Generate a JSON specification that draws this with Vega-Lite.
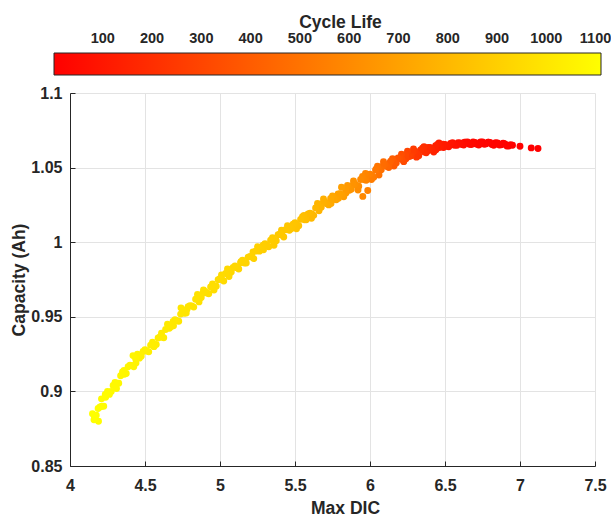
{
  "$schema": "https://vega.github.io/schema/vega-lite/v6.json",
  "autosize": "none",
  "padding": {"left": 70, "top": 93, "right": 16, "bottom": 53},
  "width": 525,
  "height": 373,
  "background": "white",
  "config": {
    "view": {"stroke": null},
    "font": "Liberation Sans"
  },
  "title": {
    "text": "Cycle Life",
    "anchor": "middle", "frame": "group", "dx": 8, "offset": 8,
    "baseline": "alphabetic",
    "font": "Liberation Sans", "fontSize": 17.5, "fontWeight": "bold", "color": "#262626"
  },
  "data": {
    "values": [
      {"x": 4.150, "y": 0.885, "c": 1111},
      {"x": 4.175, "y": 0.884, "c": 1107},
      {"x": 4.200, "y": 0.8895, "c": 1102},
      {"x": 4.225, "y": 0.890, "c": 1098},
      {"x": 4.250, "y": 0.900, "c": 1094},
      {"x": 4.275, "y": 0.900, "c": 1089},
      {"x": 4.300, "y": 0.906, "c": 1085},
      {"x": 4.325, "y": 0.9055, "c": 1080},
      {"x": 4.350, "y": 0.913, "c": 1075},
      {"x": 4.375, "y": 0.912, "c": 1070},
      {"x": 4.400, "y": 0.9175, "c": 1065},
      {"x": 4.425, "y": 0.9165, "c": 1060},
      {"x": 4.450, "y": 0.925, "c": 1055},
      {"x": 4.475, "y": 0.9235, "c": 1050},
      {"x": 4.500, "y": 0.928, "c": 1045},
      {"x": 4.525, "y": 0.9265, "c": 1040},
      {"x": 4.550, "y": 0.933, "c": 1036},
      {"x": 4.575, "y": 0.9315, "c": 1031},
      {"x": 4.600, "y": 0.9365, "c": 1027},
      {"x": 4.625, "y": 0.936, "c": 1022},
      {"x": 4.650, "y": 0.945, "c": 1018},
      {"x": 4.675, "y": 0.9435, "c": 1013},
      {"x": 4.700, "y": 0.948, "c": 1009},
      {"x": 4.725, "y": 0.947, "c": 1004},
      {"x": 4.750, "y": 0.954, "c": 1000},
      {"x": 4.775, "y": 0.9525, "c": 996},
      {"x": 4.800, "y": 0.9575, "c": 991},
      {"x": 4.825, "y": 0.9565, "c": 987},
      {"x": 4.850, "y": 0.965, "c": 983},
      {"x": 4.875, "y": 0.963, "c": 979},
      {"x": 4.900, "y": 0.967, "c": 974},
      {"x": 4.925, "y": 0.9655, "c": 970},
      {"x": 4.950, "y": 0.972, "c": 966},
      {"x": 4.975, "y": 0.9705, "c": 961},
      {"x": 5.000, "y": 0.9755, "c": 957},
      {"x": 5.025, "y": 0.974, "c": 952},
      {"x": 5.050, "y": 0.982, "c": 947},
      {"x": 5.075, "y": 0.980, "c": 941},
      {"x": 5.100, "y": 0.984, "c": 936},
      {"x": 5.125, "y": 0.982, "c": 931},
      {"x": 5.150, "y": 0.988, "c": 926},
      {"x": 5.175, "y": 0.986, "c": 921},
      {"x": 5.200, "y": 0.9905, "c": 915},
      {"x": 5.225, "y": 0.989, "c": 910},
      {"x": 5.250, "y": 0.997, "c": 905},
      {"x": 5.275, "y": 0.995, "c": 900},
      {"x": 5.300, "y": 0.999, "c": 895},
      {"x": 5.325, "y": 0.997, "c": 890},
      {"x": 5.350, "y": 1.003, "c": 885},
      {"x": 5.375, "y": 1.001, "c": 880},
      {"x": 5.400, "y": 1.0055, "c": 875},
      {"x": 5.425, "y": 1.0035, "c": 870},
      {"x": 5.450, "y": 1.011, "c": 865},
      {"x": 5.475, "y": 1.009, "c": 860},
      {"x": 5.500, "y": 1.013, "c": 855},
      {"x": 5.525, "y": 1.011, "c": 844},
      {"x": 5.550, "y": 1.017, "c": 833},
      {"x": 5.575, "y": 1.015, "c": 823},
      {"x": 5.600, "y": 1.0195, "c": 812},
      {"x": 5.625, "y": 1.018, "c": 801},
      {"x": 5.650, "y": 1.026, "c": 790},
      {"x": 5.675, "y": 1.0235, "c": 775},
      {"x": 5.700, "y": 1.027, "c": 760},
      {"x": 5.725, "y": 1.025, "c": 745},
      {"x": 5.750, "y": 1.031, "c": 730},
      {"x": 5.775, "y": 1.0285, "c": 715},
      {"x": 5.800, "y": 1.0325, "c": 700},
      {"x": 5.825, "y": 1.0305, "c": 683},
      {"x": 5.850, "y": 1.038, "c": 665},
      {"x": 5.875, "y": 1.0355, "c": 648},
      {"x": 5.900, "y": 1.039, "c": 630},
      {"x": 5.925, "y": 1.0375, "c": 612},
      {"x": 5.950, "y": 1.044, "c": 594},
      {"x": 5.975, "y": 1.0415, "c": 575},
      {"x": 6.000, "y": 1.0455, "c": 557},
      {"x": 6.025, "y": 1.0435, "c": 533},
      {"x": 6.050, "y": 1.051, "c": 509},
      {"x": 6.075, "y": 1.0485, "c": 484},
      {"x": 6.100, "y": 1.052, "c": 460},
      {"x": 6.125, "y": 1.050, "c": 433},
      {"x": 6.150, "y": 1.056, "c": 405},
      {"x": 6.175, "y": 1.053, "c": 378},
      {"x": 6.200, "y": 1.0565, "c": 350},
      {"x": 6.225, "y": 1.054, "c": 324},
      {"x": 6.250, "y": 1.061, "c": 298},
      {"x": 6.275, "y": 1.058, "c": 271},
      {"x": 6.300, "y": 1.061, "c": 245},
      {"x": 6.325, "y": 1.058, "c": 225},
      {"x": 6.350, "y": 1.063, "c": 205},
      {"x": 6.375, "y": 1.060, "c": 185},
      {"x": 6.400, "y": 1.0635, "c": 165},
      {"x": 6.425, "y": 1.0605, "c": 150},
      {"x": 6.450, "y": 1.0655, "c": 135},
      {"x": 6.475, "y": 1.064, "c": 120},
      {"x": 6.500, "y": 1.0655, "c": 105},
      {"x": 6.525, "y": 1.064, "c": 94},
      {"x": 6.550, "y": 1.0667, "c": 83},
      {"x": 6.575, "y": 1.0653, "c": 71},
      {"x": 6.600, "y": 1.0665, "c": 60},
      {"x": 6.625, "y": 1.0651, "c": 53},
      {"x": 6.650, "y": 1.0672, "c": 45},
      {"x": 6.675, "y": 1.0655, "c": 38},
      {"x": 6.700, "y": 1.0668, "c": 30},
      {"x": 6.725, "y": 1.0652, "c": 26},
      {"x": 6.750, "y": 1.0672, "c": 23},
      {"x": 6.775, "y": 1.066, "c": 19},
      {"x": 6.800, "y": 1.0668, "c": 15},
      {"x": 6.825, "y": 1.065, "c": 13},
      {"x": 6.850, "y": 1.0665, "c": 12},
      {"x": 6.875, "y": 1.0653, "c": 10},
      {"x": 6.900, "y": 1.0658, "c": 8},
      {"x": 6.925, "y": 1.0645, "c": 7},
      {"x": 6.950, "y": 1.065, "c": 6},
      {"x": 7.000, "y": 1.0643, "c": 4},
      {"x": 7.075, "y": 1.0632, "c": 2},
      {"x": 7.120, "y": 1.0628, "c": 1},
      {"x": 4.1625, "y": 0.8835, "c": 1109},
      {"x": 4.1875, "y": 0.8885, "c": 1105},
      {"x": 4.2125, "y": 0.890, "c": 1100},
      {"x": 4.2375, "y": 0.896, "c": 1096},
      {"x": 4.2625, "y": 0.898, "c": 1092},
      {"x": 4.2875, "y": 0.904, "c": 1087},
      {"x": 4.3125, "y": 0.9055, "c": 1082},
      {"x": 4.3375, "y": 0.9105, "c": 1077},
      {"x": 4.3625, "y": 0.9115, "c": 1072},
      {"x": 4.3875, "y": 0.9165, "c": 1067},
      {"x": 4.4125, "y": 0.9173, "c": 1062},
      {"x": 4.4375, "y": 0.9218, "c": 1057},
      {"x": 4.4625, "y": 0.9223, "c": 1052},
      {"x": 4.4875, "y": 0.9268, "c": 1047},
      {"x": 4.5125, "y": 0.927, "c": 1043},
      {"x": 4.5375, "y": 0.931, "c": 1038},
      {"x": 4.5625, "y": 0.9313, "c": 1034},
      {"x": 4.5875, "y": 0.9358, "c": 1029},
      {"x": 4.6125, "y": 0.9365, "c": 1025},
      {"x": 4.6375, "y": 0.9415, "c": 1020},
      {"x": 4.6625, "y": 0.9423, "c": 1016},
      {"x": 4.6875, "y": 0.9468, "c": 1011},
      {"x": 4.7125, "y": 0.9473, "c": 1007},
      {"x": 4.7375, "y": 0.9518, "c": 1002},
      {"x": 4.7625, "y": 0.9523, "c": 998},
      {"x": 4.7875, "y": 0.9568, "c": 994},
      {"x": 4.8125, "y": 0.9573, "c": 989},
      {"x": 4.8375, "y": 0.9618, "c": 985},
      {"x": 4.8625, "y": 0.962, "c": 981},
      {"x": 4.8875, "y": 0.966, "c": 976},
      {"x": 4.9125, "y": 0.966, "c": 972},
      {"x": 4.9375, "y": 0.970, "c": 968},
      {"x": 4.9625, "y": 0.9703, "c": 963},
      {"x": 4.9875, "y": 0.9748, "c": 959},
      {"x": 5.0125, "y": 0.975, "c": 954},
      {"x": 5.0375, "y": 0.979, "c": 949},
      {"x": 5.0625, "y": 0.979, "c": 944},
      {"x": 5.0875, "y": 0.983, "c": 939},
      {"x": 5.1125, "y": 0.9828, "c": 934},
      {"x": 5.1375, "y": 0.9863, "c": 928},
      {"x": 5.1625, "y": 0.986, "c": 923},
      {"x": 5.1875, "y": 0.990, "c": 918},
      {"x": 5.2125, "y": 0.990, "c": 913},
      {"x": 5.2375, "y": 0.994, "c": 908},
      {"x": 5.2625, "y": 0.994, "c": 903},
      {"x": 5.2875, "y": 0.998, "c": 898},
      {"x": 5.3125, "y": 0.9978, "c": 893},
      {"x": 5.3375, "y": 1.0013, "c": 888},
      {"x": 5.3625, "y": 1.001, "c": 883},
      {"x": 5.3875, "y": 1.005, "c": 878},
      {"x": 5.4125, "y": 1.0048, "c": 873},
      {"x": 5.4375, "y": 1.0083, "c": 868},
      {"x": 5.4625, "y": 1.008, "c": 863},
      {"x": 5.4875, "y": 1.012, "c": 858},
      {"x": 5.5125, "y": 1.0118, "c": 850},
      {"x": 5.5375, "y": 1.0153, "c": 839},
      {"x": 5.5625, "y": 1.015, "c": 828},
      {"x": 5.5875, "y": 1.019, "c": 817},
      {"x": 5.6125, "y": 1.019, "c": 806},
      {"x": 5.6375, "y": 1.023, "c": 796},
      {"x": 5.6625, "y": 1.0228, "c": 783},
      {"x": 5.6875, "y": 1.0263, "c": 768},
      {"x": 5.7125, "y": 1.0258, "c": 753},
      {"x": 5.7375, "y": 1.0293, "c": 738},
      {"x": 5.7625, "y": 1.0288, "c": 723},
      {"x": 5.7875, "y": 1.0323, "c": 708},
      {"x": 5.8125, "y": 1.0318, "c": 691},
      {"x": 5.8375, "y": 1.0353, "c": 674},
      {"x": 5.8625, "y": 1.0348, "c": 656},
      {"x": 5.8875, "y": 1.0383, "c": 639},
      {"x": 5.9125, "y": 1.038, "c": 621},
      {"x": 5.9375, "y": 1.042, "c": 603},
      {"x": 5.9625, "y": 1.0418, "c": 584},
      {"x": 5.9875, "y": 1.0453, "c": 566},
      {"x": 6.0125, "y": 1.0448, "c": 545},
      {"x": 6.0375, "y": 1.0483, "c": 521},
      {"x": 6.0625, "y": 1.0478, "c": 496},
      {"x": 6.0875, "y": 1.0513, "c": 472},
      {"x": 6.1125, "y": 1.0508, "c": 446},
      {"x": 6.1375, "y": 1.0543, "c": 419},
      {"x": 6.1625, "y": 1.0535, "c": 391},
      {"x": 6.1875, "y": 1.0565, "c": 364},
      {"x": 6.2125, "y": 1.0555, "c": 337},
      {"x": 6.2375, "y": 1.0585, "c": 311},
      {"x": 6.2625, "y": 1.0575, "c": 284},
      {"x": 6.2875, "y": 1.0605, "c": 258},
      {"x": 6.3125, "y": 1.0593, "c": 235},
      {"x": 6.3375, "y": 1.0618, "c": 215},
      {"x": 6.3625, "y": 1.0605, "c": 195},
      {"x": 6.3875, "y": 1.0635, "c": 175},
      {"x": 6.4125, "y": 1.0625, "c": 158},
      {"x": 6.4375, "y": 1.0646, "c": 143},
      {"x": 6.4625, "y": 1.0635, "c": 128},
      {"x": 6.4875, "y": 1.0656, "c": 113},
      {"x": 6.5125, "y": 1.0643, "c": 99},
      {"x": 6.5375, "y": 1.0662, "c": 88},
      {"x": 6.5625, "y": 1.0649, "c": 77},
      {"x": 6.5875, "y": 1.0667, "c": 66},
      {"x": 6.6125, "y": 1.0654, "c": 56},
      {"x": 6.6375, "y": 1.067, "c": 49},
      {"x": 6.6625, "y": 1.0657, "c": 41},
      {"x": 6.6875, "y": 1.0671, "c": 34},
      {"x": 6.7125, "y": 1.0657, "c": 28},
      {"x": 6.7375, "y": 1.0671, "c": 24},
      {"x": 6.7625, "y": 1.0657, "c": 21},
      {"x": 6.7875, "y": 1.067, "c": 17},
      {"x": 6.8125, "y": 1.0654, "c": 14},
      {"x": 6.8375, "y": 1.0666, "c": 12},
      {"x": 6.8625, "y": 1.0651, "c": 11},
      {"x": 6.8875, "y": 1.0663, "c": 9},
      {"x": 6.9125, "y": 1.0645, "c": 8},
      {"x": 6.9375, "y": 1.0654, "c": 7},
      {"x": 4.190, "y": 0.880, "c": 1104},
      {"x": 4.160, "y": 0.881, "c": 1109},
      {"x": 4.210, "y": 0.895, "c": 1100},
      {"x": 4.235, "y": 0.898, "c": 1096},
      {"x": 4.310, "y": 0.902, "c": 1083},
      {"x": 4.360, "y": 0.914, "c": 1073},
      {"x": 4.420, "y": 0.924, "c": 1061},
      {"x": 4.440, "y": 0.919, "c": 1057},
      {"x": 4.560, "y": 0.930, "c": 1034},
      {"x": 4.610, "y": 0.939, "c": 1025},
      {"x": 4.690, "y": 0.944, "c": 1011},
      {"x": 4.740, "y": 0.956, "c": 1002},
      {"x": 4.780, "y": 0.955, "c": 995},
      {"x": 4.860, "y": 0.960, "c": 981},
      {"x": 4.890, "y": 0.968, "c": 976},
      {"x": 4.960, "y": 0.968, "c": 964},
      {"x": 5.010, "y": 0.978, "c": 955},
      {"x": 5.060, "y": 0.977, "c": 945},
      {"x": 5.140, "y": 0.987, "c": 928},
      {"x": 5.220, "y": 0.9935, "c": 911},
      {"x": 5.290, "y": 0.995, "c": 897},
      {"x": 5.360, "y": 0.998, "c": 883},
      {"x": 5.410, "y": 1.008, "c": 873},
      {"x": 5.460, "y": 1.010, "c": 863},
      {"x": 5.510, "y": 1.009, "c": 851},
      {"x": 5.560, "y": 1.018, "c": 829},
      {"x": 5.610, "y": 1.016, "c": 808},
      {"x": 5.660, "y": 1.021, "c": 784},
      {"x": 5.690, "y": 1.029, "c": 766},
      {"x": 5.740, "y": 1.026, "c": 736},
      {"x": 5.790, "y": 1.0295, "c": 706},
      {"x": 5.810, "y": 1.0368, "c": 693},
      {"x": 5.840, "y": 1.033, "c": 672},
      {"x": 5.890, "y": 1.041, "c": 637},
      {"x": 5.920, "y": 1.035, "c": 615},
      {"x": 5.952, "y": 1.0307, "c": 592},
      {"x": 5.985, "y": 1.0346, "c": 568},
      {"x": 5.970, "y": 1.046, "c": 579},
      {"x": 6.010, "y": 1.042, "c": 547},
      {"x": 6.040, "y": 1.049, "c": 518},
      {"x": 6.060, "y": 1.045, "c": 499},
      {"x": 6.090, "y": 1.054, "c": 470},
      {"x": 6.130, "y": 1.053, "c": 427},
      {"x": 6.160, "y": 1.051, "c": 394},
      {"x": 6.210, "y": 1.059, "c": 340},
      {"x": 6.240, "y": 1.056, "c": 308},
      {"x": 6.290, "y": 1.0625, "c": 256},
      {"x": 6.310, "y": 1.057, "c": 237},
      {"x": 6.360, "y": 1.064, "c": 197},
      {"x": 6.390, "y": 1.0615, "c": 173},
      {"x": 6.440, "y": 1.062, "c": 141},
      {"x": 6.460, "y": 1.0665, "c": 129},
      {"x": 6.490, "y": 1.0635, "c": 111},
      {"x": 6.540, "y": 1.066, "c": 87},
      {"x": 6.580, "y": 1.065, "c": 69},
      {"x": 6.630, "y": 1.067, "c": 51},
      {"x": 6.690, "y": 1.066, "c": 33},
      {"x": 6.740, "y": 1.066, "c": 24},
      {"x": 6.790, "y": 1.067, "c": 16},
      {"x": 6.840, "y": 1.0658, "c": 12},
      {"x": 6.890, "y": 1.066, "c": 9}
    ]
  },
  "mark": {"type": "circle", "size": 48, "opacity": 1},
  "encoding": {
    "x": {
      "field": "x", "type": "quantitative",
      "scale": {"domain": [4, 7.5], "nice": false, "zero": false},
      "axis": {
        "values": [4, 4.5, 5, 5.5, 6, 6.5, 7, 7.5],
        "format": "~f",
        "title": "Max DIC",
        "titleFont": "Liberation Sans", "titleFontSize": 17.5, "titleFontWeight": "bold", "titleColor": "#262626",
        "titleX": 275, "titleY": 47, "titleAlign": "center", "titleBaseline": "alphabetic",
        "labelFont": "Liberation Sans", "labelFontSize": 16, "labelFontWeight": "bold", "labelColor": "#262626",
        "labelFlush": false, "labelOverlap": false,
        "tickSize": -5, "labelPadding": 16, "tickColor": "#262626",
        "domainColor": "#262626", "domainWidth": 1,
        "grid": true, "gridColor": "#e3e3e3", "gridWidth": 1
      }
    },
    "y": {
      "field": "y", "type": "quantitative",
      "scale": {"domain": [0.85, 1.1], "nice": false, "zero": false},
      "axis": {
        "values": [0.85, 0.9, 0.95, 1, 1.05, 1.1],
        "format": "~f",
        "title": "Capacity (Ah)",
        "titleFont": "Liberation Sans", "titleFontSize": 17.5, "titleFontWeight": "bold", "titleColor": "#262626",
        "titleX": -46, "titleY": 186.5, "titleAngle": 270, "titleAlign": "center", "titleBaseline": "alphabetic",
        "labelFont": "Liberation Sans", "labelFontSize": 16, "labelFontWeight": "bold", "labelColor": "#262626",
        "labelFlush": false, "labelOverlap": false,
        "tickSize": -5, "labelPadding": 13, "tickColor": "#262626",
        "domainColor": "#262626", "domainWidth": 1,
        "grid": true, "gridColor": "#e3e3e3", "gridWidth": 1
      }
    },
    "color": {
      "field": "c", "type": "quantitative",
      "scale": {"domain": [1, 1111], "range": ["#ff0000", "#ffff00"], "interpolate": "rgb"},
      "legend": {
        "orient": "none", "direction": "horizontal",
        "legendX": -16, "legendY": -40, "padding": 0,
        "gradientLength": 547, "gradientThickness": 22,
        "gradientStrokeColor": "#262626", "gradientStrokeWidth": 1,
        "values": [100, 200, 300, 400, 500, 600, 700, 800, 900, 1000, 1100],
        "format": "d",
        "labelOffset": -43, "labelOverlap": false,
        "labelFont": "Liberation Sans", "labelFontSize": 14.5, "labelFontWeight": "bold", "labelColor": "#262626",
        "title": null
      }
    },
    "order": {"field": "c", "type": "quantitative"}
  }
}
